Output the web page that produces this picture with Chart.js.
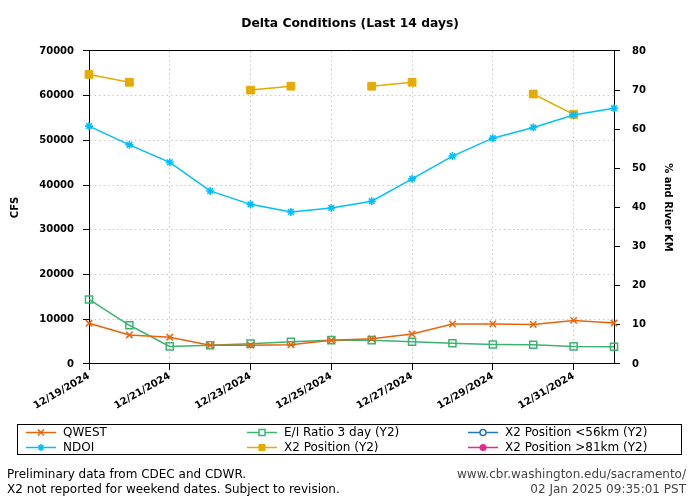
<!DOCTYPE html>
<html>
<head>
<meta charset="utf-8">
<script src="https://cdn.jsdelivr.net/npm/chart.js@4"></script>
<style>
  html, body { margin: 0; padding: 0; background: #fff; }
  #wrap { width: 700px; height: 500px; }
</style>
</head>
<body>
<div id="wrap"><canvas id="c" width="700" height="500"></canvas></div>
<script>
const dates = ['12/19/2024','12/20/2024','12/21/2024','12/22/2024','12/23/2024','12/24/2024','12/25/2024',
               '12/26/2024','12/27/2024','12/28/2024','12/29/2024','12/30/2024','12/31/2024','01/01/2025'];
const qwest   = [9100, 6500, 6000, 4200, 4200, 4300, 5300, 5650, 6700, 8950, 8950, 8850, 9750, 9150];
const ndoi    = [53200, 49000, 45100, 38700, 35700, 34000, 34900, 36400, 41400, 46500, 50500, 52900, 55700, 57200];
const eiRatio = [16.5, 9.9, 4.5, 4.8, 5.2, 5.7, 6.1, 6.1, 5.7, 5.3, 5.0, 4.9, 4.5, 4.4];
const x2Pos   = [74.0, 72.0, null, null, 70.0, 71.0, null, 71.0, 72.0, null, null, 69.0, 63.8, null];
const x2Low   = [null, null, null, null, null, null, null, null, null, null, null, null, null, null];
const x2High  = [null, null, null, null, null, null, null, null, null, null, null, null, null, null];
const leftTicks = { min: 0, max: 70000, step: 10000 };
const rightTicks = { min: 0, max: 80, step: 10 };

const FONT = "'DejaVu Sans', sans-serif";
const C = { qwest: '#e8640c', ndoi: '#00bfff', ei: '#3cb371', x2: '#e6ab02', low: '#1f78b4', high: '#e7298a' };

const legendItems = [
  { text: 'QWEST', color: C.qwest, style: 'crossRot', col: 0, row: 0 },
  { text: 'NDOI', color: C.ndoi, style: 'star', col: 0, row: 1 },
  { text: 'E/I Ratio 3 day (Y2)', color: C.ei, style: 'rectOpen', col: 1, row: 0 },
  { text: 'X2 Position (Y2)', color: C.x2, style: 'rect', col: 1, row: 1 },
  { text: 'X2 Position <56km (Y2)', color: C.low, style: 'circleOpen', col: 2, row: 0 },
  { text: 'X2 Position >81km (Y2)', color: C.high, style: 'circle', col: 2, row: 1 }
];

function drawMarker(ctx, style, x, y, color) {
  ctx.save();
  ctx.strokeStyle = color; ctx.fillStyle = color; ctx.lineWidth = 1.5;
  ctx.beginPath();
  if (style === 'crossRot') {
    const d = 3;
    ctx.moveTo(x - d, y - d); ctx.lineTo(x + d, y + d);
    ctx.moveTo(x - d, y + d); ctx.lineTo(x + d, y - d);
    ctx.stroke();
  } else if (style === 'star') {
    const d = 3.5, e = 2.5;
    ctx.moveTo(x - d, y); ctx.lineTo(x + d, y);
    ctx.moveTo(x, y - d); ctx.lineTo(x, y + d);
    ctx.moveTo(x - e, y - e); ctx.lineTo(x + e, y + e);
    ctx.moveTo(x - e, y + e); ctx.lineTo(x + e, y - e);
    ctx.stroke();
  } else if (style === 'rectOpen') {
    ctx.fillStyle = '#fff';
    ctx.rect(x - 3, y - 3, 6, 6); ctx.fill(); ctx.stroke();
  } else if (style === 'rect') {
    ctx.rect(x - 3.5, y - 3.5, 7, 7); ctx.fill();
  } else if (style === 'circleOpen') {
    ctx.fillStyle = '#fff';
    ctx.arc(x, y, 3, 0, Math.PI * 2); ctx.fill(); ctx.stroke();
  } else if (style === 'circle') {
    ctx.arc(x, y, 3.5, 0, Math.PI * 2); ctx.fill();
  }
  ctx.restore();
}

const extras = {
  id: 'extras',
  afterDraw(chart) {
    const ctx = chart.ctx, a = chart.chartArea;
    ctx.save();
    ctx.strokeStyle = '#000'; ctx.lineWidth = 1;
    const top = Math.round(a.top - 0.5) + 0.5;
    ctx.beginPath(); ctx.moveTo(a.left, top); ctx.lineTo(a.right, top); ctx.stroke();
    ctx.strokeRect(17.5, 424.5, 664, 30);
    const colLine = [26, 247, 468];
    const rowY = [432.5, 447.5];
    ctx.font = '12px ' + FONT;
    ctx.textBaseline = 'middle'; ctx.textAlign = 'left';
    legendItems.forEach(it => {
      const x0 = colLine[it.col], y = rowY[it.row];
      ctx.strokeStyle = it.color; ctx.lineWidth = 1.5;
      ctx.beginPath(); ctx.moveTo(x0, y); ctx.lineTo(x0 + 30, y); ctx.stroke();
      drawMarker(ctx, it.style, x0 + 15, y, it.color);
      ctx.fillStyle = '#000';
      ctx.fillText(it.text, x0 + 37, y + 0.5);
    });
    ctx.fillStyle = '#000';
    ctx.textAlign = 'left';
    ctx.fillText('Preliminary data from CDEC and CDWR.', 7, 475);
    ctx.fillText('X2 not reported for weekend dates. Subject to revision.', 7, 489.5);
    ctx.fillStyle = '#444';
    ctx.textAlign = 'right';
    ctx.fillText('www.cbr.washington.edu/sacramento/', 686, 475);
    ctx.fillText('02 Jan 2025 09:35:01 PST', 686, 489.5);
    ctx.restore();
  }
};

const gridDash = [1.5, 3];
const tickFont = { family: FONT, size: 10, weight: 'bold' };

new Chart(document.getElementById('c'), {
  type: 'line',
  data: {
    labels: dates,
    datasets: [
      { label: 'QWEST', data: qwest, yAxisID: 'y', borderColor: C.qwest, backgroundColor: C.qwest,
        borderWidth: 1.5, pointStyle: 'crossRot', pointRadius: 4.5, pointBorderWidth: 1.5, clip: false, tension: 0 },
      { label: 'NDOI', data: ndoi, yAxisID: 'y', borderColor: C.ndoi, backgroundColor: C.ndoi,
        borderWidth: 1.5, pointStyle: 'star', pointRadius: 4, pointBorderWidth: 1.6, clip: false, tension: 0 },
      { label: 'E/I Ratio 3 day (Y2)', data: eiRatio, yAxisID: 'y2', borderColor: C.ei, backgroundColor: 'rgba(255,255,255,0)',
        borderWidth: 1.5, pointStyle: 'rect', pointRadius: 5, pointBorderWidth: 1.5, clip: false, tension: 0 },
      { label: 'X2 Position (Y2)', data: x2Pos, yAxisID: 'y2', borderColor: C.x2, backgroundColor: C.x2,
        borderWidth: 1.5, pointStyle: 'rect', pointRadius: 5.5, pointBorderWidth: 1, clip: false, spanGaps: false, tension: 0 },
      { label: 'X2 Position <56km (Y2)', data: x2Low, yAxisID: 'y2', borderColor: C.low, backgroundColor: '#fff',
        borderWidth: 1.5, pointStyle: 'circle', pointRadius: 3, clip: false },
      { label: 'X2 Position >81km (Y2)', data: x2High, yAxisID: 'y2', borderColor: C.high, backgroundColor: C.high,
        borderWidth: 1.5, pointStyle: 'circle', pointRadius: 3.5, clip: false }
    ]
  },
  options: {
    responsive: false,
    animation: false,
    devicePixelRatio: 1,
    layout: { padding: 0 },
    plugins: {
      legend: { display: false },
      tooltip: { enabled: false },
      title: {
        display: true,
        text: 'Delta Conditions (Last 14 days)',
        color: '#000',
        font: { family: FONT, size: 12.3, weight: 'bold', lineHeight: 1.2 },
        padding: { top: 16.5, bottom: 19.7 }
      }
    },
    scales: {
      x: {
        type: 'category',
        ticks: {
          autoSkip: false, maxRotation: 30, minRotation: 30, color: '#000', font: tickFont, padding: 0,
          callback: function(v, i) { return i % 2 === 0 ? dates[i] : ''; }
        },
        grid: {
          color: ctx => (ctx.index % 2 === 0 ? '#c8c8c8' : 'rgba(0,0,0,0)'),
          tickColor: ctx => (ctx.index % 2 === 0 ? '#000' : 'rgba(0,0,0,0)'),
          tickLength: 6, lineWidth: 1
        },
        border: { display: true, color: '#000', width: 1, dash: gridDash },
        afterFit: s => { s.height = 136; }
      },
      y: {
        position: 'left',
        min: leftTicks.min, max: leftTicks.max,
        ticks: { stepSize: leftTicks.step, color: '#000', font: tickFont, padding: 9,
          callback: v => String(v) },
        grid: { color: '#c8c8c8', tickColor: '#000', tickLength: 6, lineWidth: 1 },
        border: { display: true, color: '#000', width: 1, dash: gridDash },
        title: { display: true, text: 'CFS', color: '#000', font: { family: FONT, size: 10, weight: 'bold' }, padding: { top: 9, bottom: 0 } },
        afterFit: s => { s.width = 89; }
      },
      y2: {
        position: 'right',
        min: rightTicks.min, max: rightTicks.max,
        ticks: { stepSize: rightTicks.step, color: '#000', font: tickFont, padding: 12,
          callback: v => String(v) },
        grid: { drawOnChartArea: false, tickColor: '#000', tickLength: 6, lineWidth: 1 },
        border: { display: true, color: '#000', width: 1 },
        title: { display: true, text: '% and River KM', color: '#000', font: { family: FONT, size: 10, weight: 'bold' }, padding: { top: 26, bottom: 0 } },
        afterFit: s => { s.width = 86; }
      }
    }
  },
  plugins: [extras]
});
</script>
</body>
</html>
